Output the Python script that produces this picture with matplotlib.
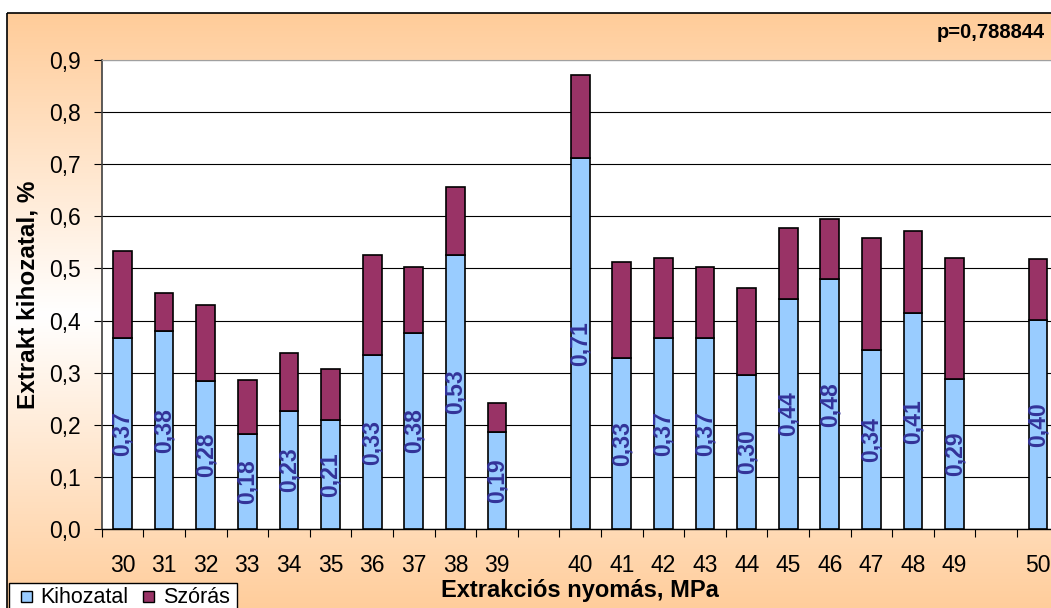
import numpy as np
import matplotlib
matplotlib.use("Agg")
import matplotlib.pyplot as plt
from matplotlib.patches import Rectangle
from matplotlib.ticker import FuncFormatter

plt.rcParams['font.family'] = ['Liberation Sans', 'DejaVu Sans']

# Data (blank categories are the empty slots of the original sheet)
categories = ['30', '31', '32', '33', '34', '35', '36', '37', '38', '39', '',
              '40', '41', '42', '43', '44', '45', '46', '47', '48', '49', '', '50']
kihozatal = [0.367, 0.379, 0.284, 0.183, 0.226, 0.209, 0.333, 0.376, 0.526, 0.187, np.nan,
             0.711, 0.329, 0.367, 0.367, 0.296, 0.441, 0.479, 0.344, 0.414, 0.287, np.nan, 0.402]
szoras = [0.167, 0.073, 0.145, 0.102, 0.112, 0.098, 0.192, 0.126, 0.130, 0.054, np.nan,
          0.160, 0.184, 0.154, 0.135, 0.167, 0.137, 0.115, 0.215, 0.157, 0.234, np.nan, 0.116]
series = ['Kihozatal', 'Szórás']
colors = ['#99CCFF', '#993366']
yticks = [0.0, 0.1, 0.2, 0.3, 0.4, 0.5, 0.6, 0.7, 0.8, 0.9]
p_text = 'p=0,788844'

W, H = 1051, 608
fig = plt.figure(figsize=(W / 100, H / 100), dpi=100, facecolor='white')

# chart area background: orange-white-orange vertical gradient (pixel coords)
bg = fig.add_axes([0, 0, 1, 1], zorder=0)
bg.set_xlim(0, W)
bg.set_ylim(H, 0)
bg.axis('off')
top, bottom = 13, 615
ys = np.linspace(top, bottom, 400)
t = np.abs(ys - (top + bottom) / 2) / ((bottom - top) / 2)
orange = np.array([255, 204, 153]) / 255
white = np.array([1.0, 1.0, 1.0])
grad = white[None, :] + (orange - white)[None, :] * t[:, None]
bg.imshow(grad[:, None, :], extent=[7, W + 10, bottom, top], aspect='auto', zorder=0)
bg.add_patch(Rectangle((7, top), W + 10, bottom - top, fill=False, edgecolor='black', lw=1.2, zorder=1))
bg.text(937, 33, p_text, fontsize=14.5, fontweight='bold', ha='left', va='center')

# plot area
ax = fig.add_axes([101.7 / W, 1 - 529 / H, 957 / W, 469 / H], zorder=1)
ax.set_facecolor('white')

x = np.arange(len(categories))
idx = [i for i, c in enumerate(categories) if c]
k = np.array(kihozatal)[idx]
s = np.array(szoras)[idx]
xb = x[idx]

b1 = ax.bar(xb, k, width=0.45, color=colors[0], edgecolor='black', linewidth=1.2, label=series[0], zorder=3)
b2 = ax.bar(xb, s, width=0.45, bottom=k, color=colors[1], edgecolor='black', linewidth=1.2, label=series[1], zorder=3)
ax.bar_label(b1, labels=[f'{v:.2f}'.replace('.', ',') for v in k], label_type='center',
             rotation=90, fontsize=16.5, fontweight='bold', color='#333399', zorder=4)

ax.set_xlim(-0.5, len(categories) - 0.5)
ax.set_ylim(0, 0.9)
ax.set_yticks(yticks)
ax.yaxis.set_major_formatter(FuncFormatter(lambda v, pos: f'{v:.1f}'.replace('.', ',')))
ax.grid(axis='y', color='black', linewidth=0.8, zorder=1)
ax.set_axisbelow(True)

ax.set_xticks(np.arange(len(categories) + 1) - 0.5)
ax.set_xticklabels([])
ax.set_xticks(x, minor=True)
ax.set_xticklabels(categories, minor=True)
ax.tick_params(axis='x', which='major', length=6, width=0.8, direction='out')
ax.tick_params(axis='x', which='minor', length=0, labelsize=16.5, pad=18)
ax.tick_params(axis='y', length=6, width=0.8, labelsize=16.5, pad=9)

ax.spines['right'].set_visible(False)
ax.spines['top'].set_color('#A0A0A0')
ax.spines['left'].set_color('#404040')
ax.spines['left'].set_linewidth(1.2)
ax.spines['bottom'].set_linewidth(1.0)

ax.set_ylabel('Extrakt kihozatal, %', fontsize=17.5, fontweight='bold')
ax.yaxis.set_label_coords((40 - 101.7) / 957, 0.5)
ax.set_xlabel('Extrakciós nyomás, MPa', fontsize=17, fontweight='bold', va='baseline')
ax.xaxis.set_label_coords((580 - 101.7) / 957, -(597 - 529) / 469)

# legend box at the bottom-left, as in the original sheet
bg.add_patch(Rectangle((9, 583), 228, 30, facecolor='white', edgecolor='black', lw=1.0, zorder=2))
for xs, xt, name, col in [(21, 40, series[0], colors[0]), (143, 163, series[1], colors[1])]:
    bg.add_patch(Rectangle((xs, 591), 11, 11, facecolor=col, edgecolor='black', lw=1.0, zorder=3))
    bg.text(xt, 603, name, fontsize=15.5, ha='left', va='baseline', zorder=3)

fig.savefig('out.png', dpi=100, facecolor='white')
